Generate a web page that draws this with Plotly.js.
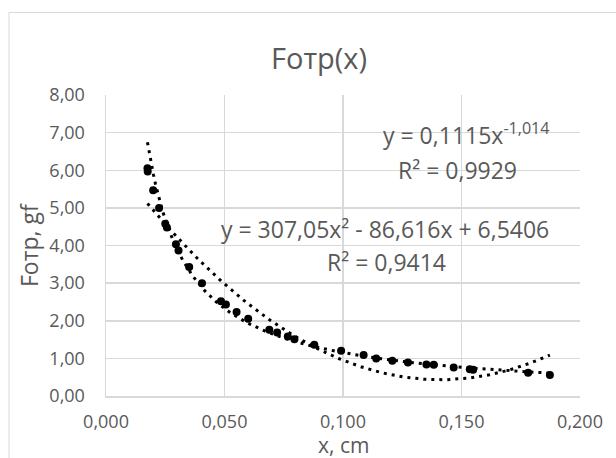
<!DOCTYPE html>
<html>
<head>
<meta charset="utf-8">
<script src="https://cdn.plot.ly/plotly-3.0.1.min.js"></script>
<style>html,body{margin:0;padding:0;background:#fff;}#chart{width:616px;height:458px;}</style>
</head>
<body>
<div id="chart"></div>
<script>
// Measured data: x (cm) and friction force (gf)
const xValues = [0.0175, 0.0176, 0.0199, 0.0224, 0.0250, 0.0257, 0.0295, 0.0306, 0.0351, 0.0405,
  0.0485, 0.0506, 0.0551, 0.0600, 0.0689, 0.0722, 0.0767, 0.0795, 0.0879, 0.0992,
  0.1087, 0.1140, 0.1208, 0.1274, 0.1352, 0.1383, 0.1467, 0.1535, 0.1549, 0.1781, 0.1873];
const fValues = [6.05, 5.97, 5.47, 5.00, 4.58, 4.48, 4.03, 3.87, 3.43, 3.00,
  2.52, 2.43, 2.23, 2.05, 1.76, 1.69, 1.58, 1.51, 1.36, 1.20,
  1.09, 1.00, 0.94, 0.89, 0.84, 0.83, 0.76, 0.71, 0.70, 0.62, 0.56];

// Trendline coefficients as printed on the chart
const powerCoef = [0.1115, -1.014];          // y = a * x^b
const polyCoef = [307.05, -86.616, 6.5406];  // y = a x^2 + b x + c

const xTickVals = [0, 0.05, 0.1, 0.15, 0.2];
const yTickVals = [0, 1, 2, 3, 4, 5, 6, 7, 8];

const chartTitle = 'Fотр(x)';
const xTitle = 'x, cm';
const yTitle = 'Fотр, gf';
const powerLabel = ['y = 0,1115x<sup>-1,014</sup>', 'R² = 0,9929'];
const polyLabel = ['y = 307,05x² - 86,616x + 6,5406', 'R² = 0,9414'];

// trendline curves from the printed equations, over the data's x span
const xMin = Math.min(...xValues), xMax = Math.max(...xValues);
const tx = [];
for (let i = 0; i <= 200; i++) tx.push(xMin + (xMax - xMin) * i / 200);
const powY = tx.map(x => powerCoef[0] * Math.pow(x, powerCoef[1]));
const polY = tx.map(x => polyCoef[0] * x * x + polyCoef[1] * x + polyCoef[2]);

const FONT = '"Open Sans", "DejaVu Sans", sans-serif';
const GREY = '#595959';

const L = 106, R = 580, T = 95, B = 396;
const px = p => (p - L) / (R - L);
const py = p => (B - p) / (B - T);

const traces = [
  {x: xValues, y: fValues, type: 'scatter', mode: 'markers',
   marker: {color: '#000000', size: 8}, hoverinfo: 'x+y'},
  {x: tx, y: powY, type: 'scatter', mode: 'lines',
   line: {color: '#000000', width: 3, dash: '3px,5px'}, hoverinfo: 'skip'},
  {x: tx, y: polY, type: 'scatter', mode: 'lines',
   line: {color: '#000000', width: 3, dash: '3px,5px'}, hoverinfo: 'skip'}
];

const ann = (text, x, y, size, extra) => Object.assign({
  text: text, xref: 'paper', yref: 'paper', x: px(x), y: py(y),
  xanchor: 'center', yanchor: 'middle', showarrow: false,
  font: {family: FONT, size: size, color: GREY}
}, extra || {});

const layout = {
  width: 616, height: 458,
  margin: {l: L, r: 616 - R, t: T, b: 458 - B},
  paper_bgcolor: '#ffffff', plot_bgcolor: '#ffffff',
  showlegend: false,
  separators: ', ',
  font: {family: FONT, color: GREY},
  xaxis: {
    range: [0, 0.2], tickvals: xTickVals, tickformat: '.3f',
    showgrid: true, gridcolor: '#d9d9d9', gridwidth: 1.5,
    showline: true, linecolor: '#d9d9d9', linewidth: 1.5,
    zeroline: false, ticks: '', ticklabelstandoff: 9,
    tickfont: {family: FONT, size: 18, color: GREY}
  },
  yaxis: {
    range: [0, 8], tickvals: yTickVals, tickformat: '.2f',
    showgrid: true, gridcolor: '#d9d9d9', gridwidth: 1.5,
    showline: true, linecolor: '#d9d9d9', linewidth: 1.5,
    zeroline: false, ticks: '', ticklabelstandoff: 16,
    tickfont: {family: FONT, size: 18, color: GREY}
  },
  shapes: [{
    type: 'rect', xref: 'paper', yref: 'paper',
    x0: px(9), x1: px(640), y0: py(480), y1: py(12.5),
    line: {color: '#d9d9d9', width: 1}, fillcolor: 'rgba(0,0,0,0)', layer: 'below'
  }],
  annotations: [
    ann(chartTitle, 319, 57, 29),
    ann(xTitle, 343, 445, 21),
    ann(yTitle, 29, 245, 23, {textangle: -90}),
    ann(powerLabel[0], 466, 134, 23),
    ann(powerLabel[1], 457, 170, 23),
    ann(polyLabel[0], 385, 229, 23),
    ann(polyLabel[1], 386, 262, 23)
  ]
};

Plotly.newPlot('chart', traces, layout, {staticPlot: true, displayModeBar: false});
</script>
</body>
</html>
